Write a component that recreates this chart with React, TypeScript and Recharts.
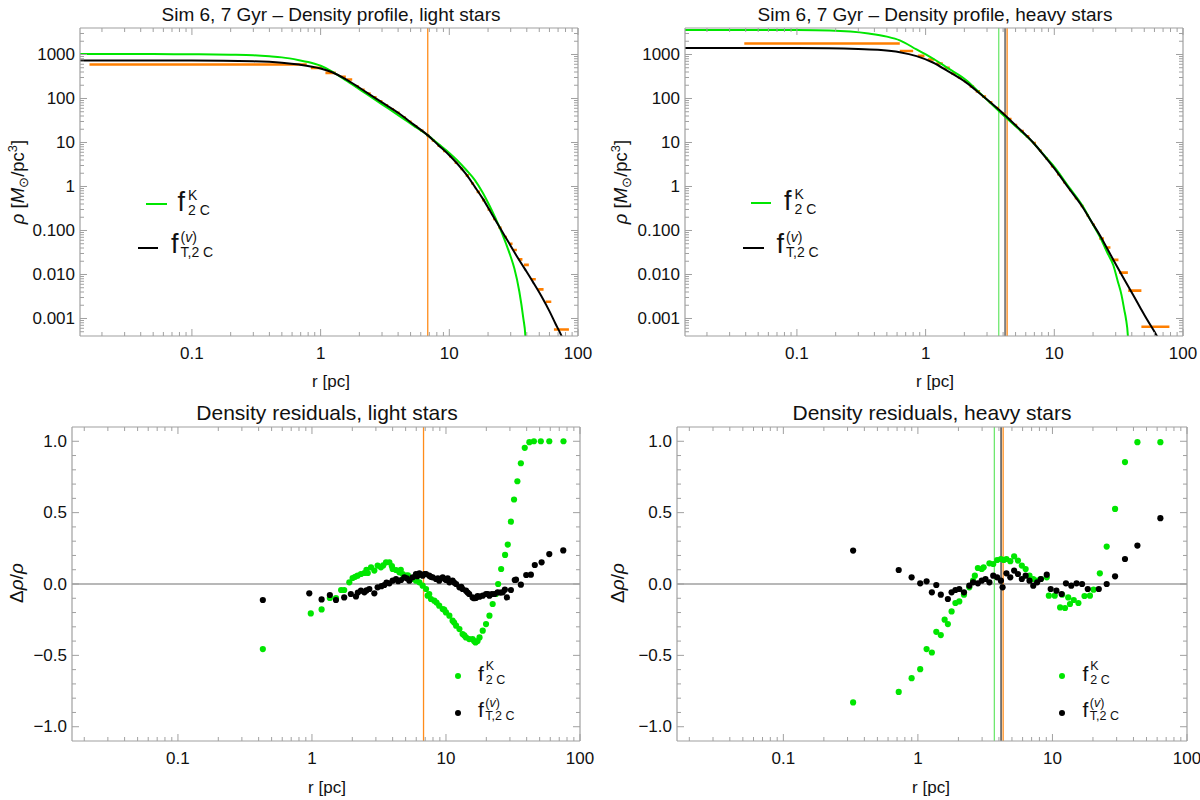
import React from 'react';
import { ComposedChart, Line, Scatter, XAxis, YAxis, ReferenceLine } from 'recharts';

type Pt = [number, number];
type Bin = [number, number, number];

// ---- top row: density profiles, [r (pc), rho (Msun/pc^3)] ----
const lightKing: Pt[] = [
  [0.0135, 1020], [0.05, 1020], [0.1, 1015], [0.2, 990], [0.3, 960], [0.4, 910], [0.5, 860],
  [0.68, 743], [0.8, 674], [1.0, 555], [1.23, 410], [1.6, 250], [2.24, 130], [3.0, 73.5], [4.08, 40.4],
  [5.2, 24.9], [6.78, 14.7], [8.2, 9.3], [10, 5.8], [11.6, 3.87], [13.5, 2.4], [15.8, 1.4],
  [18.2, 0.72], [20.5, 0.37], [22.9, 0.187], [25, 0.105], [27.6, 0.05], [30, 0.0253],
  [32, 0.0138], [35, 0.0041], [37.6, 0.001], [39, 0.0004], [39.6, 0.00001],
];
const lightTidal: Pt[] = [
  [0.0135, 731], [0.1, 728], [0.3, 700], [0.5, 650], [0.68, 590], [1.0, 480], [1.23, 395],
  [1.6, 265], [2.24, 142], [3.0, 81.6], [4.08, 45.6], [5.2, 26.5], [6.78, 14.7], [8.2, 8.8],
  [10, 5.15], [11.6, 3.25], [13.5, 1.9], [15.8, 0.98], [18.2, 0.53], [21, 0.26], [24.5, 0.121],
  [28.5, 0.0575], [33.1, 0.0275], [38.5, 0.0136], [44.6, 0.0068], [52, 0.0032], [60.1, 0.00145],
  [67, 0.00075], [74, 0.00042], [82, 0.0002],
];
// measured bins: [r low, r high, rho]
const lightBins: Bin[] = [
  [0.016, 0.78, 592], [0.84, 1.03, 497], [1.09, 1.31, 383], [1.43, 1.57, 311], [1.6, 1.76, 270],
  [1.85, 1.98, 190], [2.05, 2.2, 157], [2.3, 2.45, 129], [2.55, 2.72, 106], [2.85, 3.02, 86],
  [3.15, 3.35, 70], [3.5, 3.72, 57], [3.9, 4.12, 47], [4.35, 4.6, 37], [4.8, 5.1, 29.6],
  [5.35, 5.65, 23.4], [5.95, 6.3, 18.6], [6.6, 7.0, 14.6], [7.3, 7.7, 11.2], [8.1, 8.5, 8.5],
  [8.95, 9.45, 6.45], [9.95, 10.45, 4.85], [11.0, 11.6, 3.48], [12.2, 12.8, 2.52], [13.4, 14.2, 1.79],
  [14.8, 15.6, 1.17], [16.3, 17.3, 0.755], [18.0, 19.0, 0.49], [19.8, 21.0, 0.3], [21.9, 23.1, 0.184],
  [24.1, 25.5, 0.115], [26.6, 28.0, 0.071], [29.3, 31.0, 0.05], [31.5, 33.5, 0.036], [34.5, 37, 0.022],
  [38, 41.5, 0.0165], [43, 47, 0.0078], [49, 54, 0.0046], [56, 62, 0.0024], [65, 85, 0.00056],
];
const heavyKing: Pt[] = [
  [0.0135, 3600], [0.05, 3600], [0.1, 3580], [0.18, 3500], [0.36, 3000], [0.5, 2550], [0.63, 2100],
  [0.85, 1300], [1.14, 811], [1.5, 482], [2.07, 261], [2.7, 125], [3.76, 50], [5.0, 23.3],
  [6.84, 10], [8.3, 5.2], [10, 2.8], [13, 0.966], [16.7, 0.35], [19.5, 0.155], [22.6, 0.072],
  [26, 0.03], [28.8, 0.016], [31, 0.0073], [33.3, 0.0034], [35, 0.00155], [36, 0.001],
  [37.3, 0.0004], [38, 0.00001],
];
const heavyTidal: Pt[] = [
  [0.0135, 1410], [0.1, 1400], [0.3, 1330], [0.45, 1270], [0.63, 1130], [0.85, 920], [1.14, 658],
  [1.5, 413], [2.07, 230], [2.7, 123], [3.76, 54], [5.0, 24.6], [6.84, 10.0], [8.3, 5.1], [10, 2.57],
  [13, 0.9], [16.7, 0.33], [19.5, 0.157], [22.6, 0.078], [26, 0.0369], [30.4, 0.016], [35, 0.0077],
  [41, 0.0034], [46, 0.00188], [52, 0.001], [62.5, 0.000406], [70, 0.0002],
];
const heavyBins: Bin[] = [
  [0.039, 0.63, 1780], [0.63, 0.8, 1200], [0.87, 0.98, 932], [1.04, 1.17, 770], [1.21, 1.36, 624],
  [1.4, 1.54, 497], [1.58, 1.72, 370], [1.78, 1.92, 300], [1.98, 2.12, 247], [2.2, 2.38, 188],
  [2.45, 2.65, 145], [2.75, 2.95, 110], [3.1, 3.3, 82], [3.5, 3.72, 61], [3.92, 4.18, 45],
  [4.35, 4.65, 34], [4.85, 5.15, 25], [5.4, 5.8, 18.2], [6.0, 6.4, 13.8], [6.8, 7.2, 9.7],
  [7.6, 8.0, 6.5], [8.5, 8.9, 4.35], [9.4, 9.95, 2.9], [10.5, 11.1, 1.9], [11.7, 12.3, 1.25],
  [13.0, 13.6, 0.83], [14.4, 15.2, 0.54], [16.0, 16.9, 0.36], [17.8, 18.6, 0.22], [19.7, 20.7, 0.135],
  [22.3, 24.3, 0.066], [24.6, 27.3, 0.041], [27.6, 31.5, 0.0215], [31.8, 37.3, 0.011],
  [37.5, 47.5, 0.0043], [47.5, 78.4, 0.00065],
];
const lightMarkR = [6.8];
const heavyMarkR = [3.7, 4.15, 4.3]; // green, black, orange

// ---- bottom row: residuals, [r (pc), drho/rho] ----
const lightResK: Pt[] = [
  [0.43, -0.456], [0.98, -0.206], [1.18, -0.178], [1.36, -0.098], [1.51, -0.098], [1.65, -0.042],
  [1.74, -0.042], [1.9, 0.012], [2.01, 0.042], [2.1, 0.05], [2.19, 0.058], [2.32, 0.07], [2.46, 0.077],
  [2.55, 0.1], [2.61, 0.077], [2.76, 0.117], [2.92, 0.094], [3.09, 0.129], [3.27, 0.117], [3.4, 0.13],
  [3.57, 0.152], [3.78, 0.152], [3.95, 0.125], [4.0, 0.105], [4.24, 0.098], [4.49, 0.082], [4.6, 0.1],
  [4.75, 0.07], [5.03, 0.058], [5.2, 0.06], [5.33, 0.042], [5.64, 0.035], [5.97, 0.023], [6.0, 0.03],
  [6.33, 0.012], [6.7, -0.012], [7.1, -0.035], [7.3, -0.082], [7.5, -0.07], [7.73, -0.105],
  [8.18, -0.117], [8.5, -0.13], [8.9, -0.152], [9.45, -0.175], [9.7, -0.18], [10.0, -0.199],
  [10.6, -0.222], [11.2, -0.257], [11.5, -0.27], [11.9, -0.292], [12.6, -0.316], [13.3, -0.351],
  [13.7, -0.36], [14.1, -0.374], [14.9, -0.386], [15.8, -0.386], [16.2, -0.4], [16.6, -0.409],
  [17.2, -0.4], [17.8, -0.374], [18.8, -0.327], [19.9, -0.281], [21.1, -0.222], [22.3, -0.14],
  [23.6, -0.07], [24.5, 0.0], [25.8, 0.105], [27.6, 0.204], [28.9, 0.276], [30.5, 0.437],
  [32.2, 0.592], [34.1, 0.72], [36.2, 0.846], [38.7, 0.954], [41.9, 0.994], [45.3, 1.0], [51, 1.0],
  [59, 1.0], [75.3, 1.0],
];
const lightResT: Pt[] = [
  [0.43, -0.112], [0.955, -0.065], [1.18, -0.108], [1.36, -0.077], [1.51, -0.112], [1.74, -0.094],
  [1.95, -0.07], [2.13, -0.087], [2.2, -0.06], [2.32, -0.047], [2.46, -0.058], [2.55, -0.045],
  [2.68, -0.035], [2.92, -0.065], [3.09, -0.023], [3.3, -0.015], [3.47, -0.007], [3.6, 0.01],
  [3.78, 0.005], [4.0, 0.023], [4.24, 0.035], [4.4, 0.02], [4.62, 0.028], [4.89, 0.047], [5.1, 0.04],
  [5.33, 0.023], [5.64, 0.047], [5.97, 0.07], [6.1, 0.055], [6.33, 0.075], [6.7, 0.058], [6.9, 0.07],
  [7.1, 0.07], [7.5, 0.058], [7.7, 0.05], [7.96, 0.047], [8.43, 0.035], [8.7, 0.04], [8.9, 0.023],
  [9.45, 0.047], [9.8, 0.035], [10.0, 0.028], [10.3, 0.04], [10.6, 0.012], [11.2, 0.023], [11.5, 0.01],
  [11.9, 0.0], [12.6, -0.023], [13.0, -0.02], [13.3, -0.035], [14.1, -0.047], [14.5, -0.06],
  [14.9, -0.07], [15.8, -0.094], [16.2, -0.1], [16.7, -0.098], [17.2, -0.085], [17.8, -0.089],
  [18.8, -0.082], [19.9, -0.07], [20.5, -0.07], [21.1, -0.082], [22, -0.07], [23.0, -0.07],
  [24.3, -0.058], [25.5, -0.06], [26.5, -0.058], [27.5, -0.04], [28.5, -0.094], [30.5, -0.042],
  [32.6, 0.028], [33.3, 0.03], [36.2, -0.005], [39.7, 0.063], [43, 0.065], [46, 0.133], [51.7, 0.152],
  [59, 0.21], [75, 0.235],
];
const heavyResK: Pt[] = [
  [0.33, -0.83], [0.72, -0.756], [0.898, -0.66], [1.04, -0.597], [1.16, -0.456], [1.27, -0.48],
  [1.37, -0.335], [1.48, -0.358], [1.58, -0.25], [1.67, -0.281], [1.78, -0.192], [1.9, -0.133],
  [2.03, -0.122], [2.2, -0.075], [2.41, -0.023], [2.57, 0.023], [2.65, 0.058], [2.79, 0.112],
  [2.98, 0.105], [3.08, 0.117], [3.4, 0.145], [3.63, 0.14], [3.88, 0.168], [4.14, 0.175],
  [4.35, 0.168], [4.55, 0.175], [4.86, 0.16], [5.19, 0.194], [5.54, 0.164], [5.92, 0.129],
  [6.32, 0.105], [6.75, 0.058], [7.2, 0.035], [7.7, 0.023], [8.2, 0.035], [9.07, 0.047],
  [9.4, -0.082], [10.4, -0.082], [11.4, -0.164], [11.8, -0.075], [12.4, -0.168], [13.1, -0.094],
  [13.5, -0.14], [14.4, -0.112], [15.6, -0.133], [17.3, -0.084], [19.0, -0.082], [20.2, -0.04],
  [22.5, 0.075], [25.3, 0.262], [29.2, 0.526], [34.6, 0.854], [42.8, 0.994], [63.4, 0.994],
];
const heavyResT: Pt[] = [
  [0.33, 0.234], [0.72, 0.098], [0.898, 0.047], [1.04, 0.005], [1.16, 0.019], [1.27, -0.058],
  [1.37, -0.007], [1.48, -0.075], [1.67, -0.105], [1.78, -0.058], [1.9, -0.042], [2.03, -0.035],
  [2.2, -0.058], [2.41, -0.012], [2.57, 0.012], [2.79, 0.005], [2.98, 0.023], [3.18, 0.035],
  [3.4, 0.012], [3.63, 0.058], [3.88, 0.047], [4.14, 0.023], [4.26, -0.023], [4.55, 0.075],
  [4.86, 0.047], [5.19, 0.094], [5.54, 0.07], [5.92, 0.035], [6.32, 0.058], [6.75, 0.023],
  [7.2, -0.012], [7.7, 0.012], [8.2, 0.035], [9.07, 0.065], [9.7, -0.035], [10.7, -0.047],
  [11.7, -0.07], [12.6, 0.005], [13.8, -0.012], [15.1, 0.005], [16.6, 0.0], [18.3, -0.035],
  [22.1, -0.035], [25.3, 0.0], [29.2, 0.054], [34.6, 0.175], [42.8, 0.269], [63.4, 0.461],
];

// ---- ticks ----
const rMajor = [0.1, 1, 10, 100];
const rMajorText = ['0.1', '1', '10', '100'];
const rMinor = [
  0.02, 0.03, 0.04, 0.05, 0.06, 0.07, 0.08, 0.09, 0.2, 0.3, 0.4, 0.5, 0.6, 0.7, 0.8, 0.9,
  2, 3, 4, 5, 6, 7, 8, 9, 20, 30, 40, 50, 60, 70, 80, 90,
];
const rhoMajor = [0.001, 0.01, 0.1, 1, 10, 100, 1000];
const rhoMajorText = ['0.001', '0.010', '0.100', '1', '10', '100', '1000'];
const rhoMinor = [
  0.0005, 0.0006, 0.0007, 0.0008, 0.0009, 0.002, 0.003, 0.004, 0.005, 0.006, 0.007, 0.008, 0.009,
  0.02, 0.03, 0.04, 0.05, 0.06, 0.07, 0.08, 0.09, 0.2, 0.3, 0.4, 0.5, 0.6, 0.7, 0.8, 0.9,
  2, 3, 4, 5, 6, 7, 8, 9, 20, 30, 40, 50, 60, 70, 80, 90, 200, 300, 400, 500, 600, 700, 800, 900,
  2000, 3000,
];
const resMajor = [-1, -0.5, 0, 0.5, 1];
const resMajorText = ['\u22121.0', '\u22120.5', '0.0', '0.5', '1.0'];
const resMinor = [-0.9, -0.8, -0.7, -0.6, -0.4, -0.3, -0.2, -0.1, 0.1, 0.2, 0.3, 0.4, 0.6, 0.7, 0.8, 0.9];

const FRAME = '#a0a0a0';
const GREEN = '#00e600';
const ORANGE = '#ff7f00';
const MARK_ORANGE = '#ff8c1a';
const MARK_GREEN = '#6fe86f';
const FONT = '"Liberation Sans", Arial, sans-serif';

const rows = (pts: Pt[]) => pts.map(([r, v]) => ({ r, v }));
const binRows = (bins: Bin[]) =>
  bins.flatMap(([lo, hi, v]) => [{ r: lo, v }, { r: hi, v }, { r: hi, v: null as number | null }]);

type Side = 'bottom' | 'top' | 'left' | 'right';

function tickFn(side: Side, major: number[], labels: string[] | null) {
  return (p: any) => {
    const { x, y, payload } = p;
    const v = payload.value;
    const i = major.findIndex((m) => Math.abs(m - v) <= 1e-9 + 1e-6 * Math.abs(m));
    const len = i >= 0 ? 7 : 4;
    let line: React.ReactNode = null;
    let text: React.ReactNode = null;
    const show = labels && i >= 0;
    if (side === 'bottom') {
      line = <line x1={x} y1={y} x2={x} y2={y - len} stroke={FRAME} />;
      if (show) text = <text x={x} y={y + 17} textAnchor="middle" dominantBaseline="central" fontSize={17} fill="#111">{labels![i]}</text>;
    } else if (side === 'top') {
      line = <line x1={x} y1={y} x2={x} y2={y + len} stroke={FRAME} />;
    } else if (side === 'left') {
      line = <line x1={x} y1={y} x2={x + len} y2={y} stroke={FRAME} />;
      if (show) text = <text x={x - 5} y={y} textAnchor="end" dominantBaseline="central" fontSize={17} fill="#111">{labels![i]}</text>;
    } else {
      line = <line x1={x} y1={y} x2={x - len} y2={y} stroke={FRAME} />;
    }
    return <g>{line}{text}</g>;
  };
}

// axes are 1px wide (a 0px axis is not drawn), margins are 1px smaller to compensate
function frameAxes(xDomain: number[], yDomain: number[], yLog: boolean) {
  const xTicks = [...rMajor, ...rMinor];
  const yMajor = yLog ? rhoMajor : resMajor;
  const yText = yLog ? rhoMajorText : resMajorText;
  const yTicks = yLog ? [...rhoMajor, ...rhoMinor] : [...resMajor, ...resMinor];
  const common = { tickLine: false, tickSize: 0, tickMargin: 0, interval: 0 as const, allowDataOverflow: true, axisLine: { stroke: FRAME, strokeWidth: 1.2 } };
  return [
    <XAxis key="xb" xAxisId="b" dataKey="r" type="number" scale="log" domain={xDomain} ticks={xTicks} height={1} tick={tickFn('bottom', rMajor, rMajorText)} {...common} />,
    <XAxis key="xt" xAxisId="t" orientation="top" dataKey="r" type="number" scale="log" domain={xDomain} ticks={xTicks} height={1} tick={tickFn('top', rMajor, null)} {...common} />,
    <YAxis key="yl" yAxisId="l" dataKey="v" type="number" scale={yLog ? 'log' : 'linear'} domain={yDomain} ticks={yTicks} width={1} tick={tickFn('left', yMajor, yText)} {...common} />,
    <YAxis key="yr" yAxisId="r" orientation="right" type="number" scale={yLog ? 'log' : 'linear'} domain={yDomain} ticks={yTicks} width={1} tick={tickFn('right', yMajor, null)} {...common} />,
  ];
}

const ids = { xAxisId: 'b', yAxisId: 'l' };

function curve(key: string, pts: Pt[], color: string) {
  return <Line key={key} {...ids} data={rows(pts)} dataKey="v" type="monotone" stroke={color} strokeWidth={2} dot={false} activeDot={false} isAnimationActive={false} />;
}
function bins(key: string, b: Bin[]) {
  return <Line key={key} {...ids} data={binRows(b)} dataKey="v" type="linear" stroke={ORANGE} strokeWidth={2.6} dot={false} activeDot={false} isAnimationActive={false} />;
}
function dots(key: string, pts: Pt[], color: string) {
  return (
    <Scatter key={key} {...ids} data={rows(pts)} dataKey="v" isAnimationActive={false}
      shape={(p: any) => <circle cx={p.cx} cy={p.cy} r={3.1} fill={color} />} />
  );
}
function vline(key: string, r: number, color: string, w = 1.3) {
  return <ReferenceLine key={key} {...ids} x={r} stroke={color} strokeWidth={w} strokeOpacity={1} />;
}

const abs = (l: number, t: number): React.CSSProperties => ({ position: 'absolute', left: l, top: t });

function Centered({ x, y, size, rotate, children }: { x: number; y: number; size: number; rotate?: boolean; children: React.ReactNode }) {
  return (
    <div style={{ ...abs(x, y), transform: `translate(-50%,-50%)${rotate ? ' rotate(-90deg)' : ''}`, whiteSpace: 'nowrap', fontSize: size, lineHeight: 1 }}>
      {children}
    </div>
  );
}

function FSym({ x, cy, sup, sub, size, small, gap }: { x: number; cy: number; sup: React.ReactNode; sub: string; size: number; small: number; gap: number }) {
  return (
    <div style={{ ...abs(x, cy), transform: 'translateY(-50%)', display: 'flex', alignItems: 'center', whiteSpace: 'nowrap' }}>
      <span style={{ fontSize: size, lineHeight: 1 }}>f</span>
      <span style={{ display: 'flex', flexDirection: 'column', fontSize: small, lineHeight: 1, marginLeft: gap, rowGap: 1 }}>
        <span>{sup}</span>
        <span>{sub}</span>
      </span>
    </div>
  );
}

const supV = <span>(<i>v</i>)</span>;

function LineKey({ x, y, len, color }: { x: number; y: number; len: number; color: string }) {
  return <div style={{ ...abs(x, y - 1), width: len, height: 2, background: color }} />;
}
function DotKey({ x, y, color }: { x: number; y: number; color: string }) {
  return <div style={{ ...abs(x - 3, y - 3), width: 6.2, height: 6.2, borderRadius: '50%', background: color }} />;
}

const rhoLabel = (
  <span><i>ρ</i> [<i>M</i><sub style={{ fontSize: '0.7em', lineHeight: 0 }}>⊙</sub>/pc<sup style={{ fontSize: '0.7em', lineHeight: 0 }}>3</sup>]</span>
);
const resLabel = <span>Δ<i>ρ</i>/<i>ρ</i></span>;

export default function App() {
  const topX = [0.0135, 100];
  const topY = [4e-4, 4000];
  const botX = [0.0162, 100];
  const botY = [-1.1, 1.1];
  return (
    <div style={{ position: 'absolute', left: 0, top: 0, width: 1200, height: 800, background: '#fff', fontFamily: FONT, color: '#111' }}>
      <style>{'.recharts-surface{overflow:visible}'}</style>

      <div style={abs(0, 0)}>
        <ComposedChart width={600} height={395} margin={{ top: 27, right: 21, bottom: 58, left: 79 }}>
          {frameAxes(topX, topY, true)}
          {lightMarkR.map((r, i) => vline('lm' + i, r, MARK_ORANGE))}
          {bins('lb', lightBins)}
          {curve('lk', lightKing, GREEN)}
          {curve('lt', lightTidal, '#000')}
        </ComposedChart>
      </div>

      <div style={abs(600, 0)}>
        <ComposedChart width={600} height={395} margin={{ top: 27, right: 16, bottom: 58, left: 84 }}>
          {frameAxes(topX, topY, true)}
          {vline('hm0', heavyMarkR[0], MARK_GREEN)}
          {vline('hm1', heavyMarkR[1], '#808080', 2)}
          {vline('hm2', heavyMarkR[2], MARK_ORANGE)}
          {bins('hb', heavyBins)}
          {curve('hk', heavyKing, GREEN)}
          {curve('ht', heavyTidal, '#000')}
        </ComposedChart>
      </div>

      <div style={abs(0, 395)}>
        <ComposedChart width={600} height={405} margin={{ top: 31, right: 19, bottom: 58, left: 71 }}>
          {frameAxes(botX, botY, false)}
          <ReferenceLine {...ids} y={0} stroke="#a0a0a0" strokeWidth={1.5} />
          {lightMarkR.map((r, i) => vline('blm' + i, r, MARK_ORANGE))}
          {dots('bk', lightResK, GREEN)}
          {dots('bt', lightResT, '#000')}
        </ComposedChart>
      </div>

      <div style={abs(600, 395)}>
        <ComposedChart width={600} height={405} margin={{ top: 31, right: 12, bottom: 58, left: 76 }}>
          {frameAxes(botX, botY, false)}
          <ReferenceLine {...ids} y={0} stroke="#a0a0a0" strokeWidth={1.5} />
          {vline('bhm0', heavyMarkR[0], MARK_GREEN)}
          {vline('bhm1', heavyMarkR[1], '#333')}
          {vline('bhm2', heavyMarkR[2], MARK_ORANGE)}
          {dots('hk', heavyResK, GREEN)}
          {dots('ht', heavyResT, '#000')}
        </ComposedChart>
      </div>

      {/* titles and axis labels */}
      <Centered x={331} y={14} size={19}>Sim 6, 7 Gyr – Density profile, light stars</Centered>
      <Centered x={935} y={14} size={19}>Sim 6, 7 Gyr – Density profile, heavy stars</Centered>
      <Centered x={327} y={412} size={21}>Density residuals, light stars</Centered>
      <Centered x={932} y={412} size={21}>Density residuals, heavy stars</Centered>
      <Centered x={331} y={381} size={17}>r [pc]</Centered>
      <Centered x={935} y={381} size={17}>r [pc]</Centered>
      <Centered x={327} y={787} size={17}>r [pc]</Centered>
      <Centered x={931} y={787} size={17}>r [pc]</Centered>
      <Centered x={18} y={182} size={18.5} rotate>{rhoLabel}</Centered>
      <Centered x={621} y={182} size={18.5} rotate>{rhoLabel}</Centered>
      <Centered x={16} y={583} size={19} rotate>{resLabel}</Centered>
      <Centered x={617} y={583} size={19} rotate>{resLabel}</Centered>

      {/* legends, top */}
      <LineKey x={146} y={204} len={21} color={GREEN} />
      <FSym x={177.5} cy={202} sup="K" sub="2 C" size={27} small={14} gap={3} />
      <LineKey x={138} y={248} len={20} color="#000" />
      <FSym x={171} cy={243.5} sup={supV} sub="T,2 C" size={27} small={14} gap={2} />
      <LineKey x={751} y={203} len={20} color={GREEN} />
      <FSym x={784} cy={201} sup="K" sub="2 C" size={27} small={14} gap={3} />
      <LineKey x={743} y={248} len={21} color="#000" />
      <FSym x={776.5} cy={243.5} sup={supV} sub="T,2 C" size={27} small={14} gap={2} />

      {/* legends, bottom */}
      <DotKey x={457.7} y={676} color={GREEN} />
      <FSym x={478} cy={673} sup="K" sub="2 C" size={21} small={12.5} gap={2} />
      <DotKey x={457.7} y={713.3} color="#000" />
      <FSym x={478} cy={709.5} sup={supV} sub="T,2 C" size={21} small={12.5} gap={1.5} />
      <DotKey x={1061.5} y={676} color={GREEN} />
      <FSym x={1082.5} cy={673} sup="K" sub="2 C" size={21} small={12.5} gap={2} />
      <DotKey x={1061.5} y={713.3} color="#000" />
      <FSym x={1082.5} cy={709.5} sup={supV} sub="T,2 C" size={21} small={12.5} gap={1.5} />
    </div>
  );
}
